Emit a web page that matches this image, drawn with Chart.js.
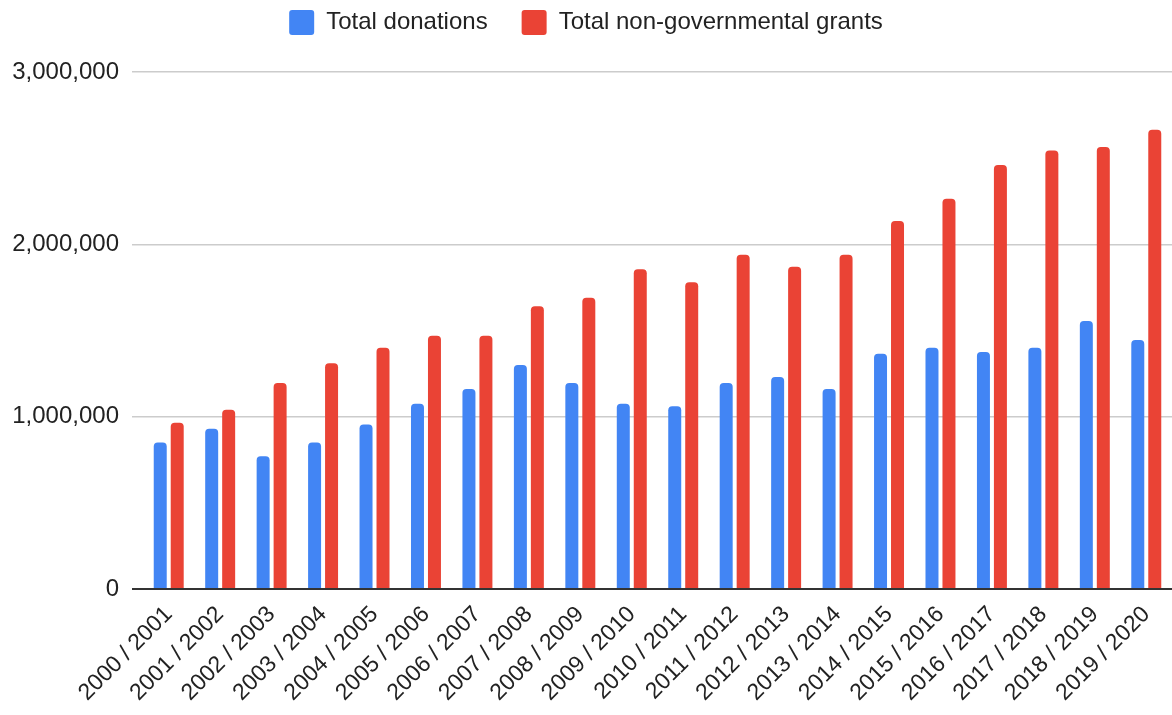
<!DOCTYPE html>
<html>
<head>
<meta charset="utf-8">
<script src="https://cdn.jsdelivr.net/npm/chart.js@4/dist/chart.umd.min.js"></script>
<style>
  html, body { margin: 0; padding: 0; background: #fff; }
  #wrap { width: 1172px; height: 715px; position: relative; }
</style>
</head>
<body>
<div id="wrap"><canvas id="c" width="1172" height="715"></canvas></div>
<script>
const categories = ["2000 / 2001","2001 / 2002","2002 / 2003","2003 / 2004","2004 / 2005","2005 / 2006","2006 / 2007","2007 / 2008","2008 / 2009","2009 / 2010","2010 / 2011","2011 / 2012","2012 / 2013","2013 / 2014","2014 / 2015","2015 / 2016","2016 / 2017","2017 / 2018","2018 / 2019","2019 / 2020"];
const totalDonations = [850000, 930000, 770000, 850000, 955000, 1075000, 1160000, 1300000, 1195000, 1075000, 1060000, 1195000, 1230000, 1160000, 1365000, 1400000, 1375000, 1400000, 1555000, 1445000];
const totalNonGovGrants = [965000, 1040000, 1195000, 1310000, 1400000, 1470000, 1470000, 1640000, 1690000, 1855000, 1780000, 1940000, 1870000, 1940000, 2135000, 2265000, 2460000, 2545000, 2565000, 2665000];
const yTicks = [0, 1000000, 2000000, 3000000];

const FONT = "'Liberation Sans', Arial, sans-serif";

const legendHeight = {
  id: 'legendHeight',
  beforeLayout(chart) {
    const lg = chart.legend;
    if (lg && !lg._patched) {
      const f = lg.fit.bind(lg);
      lg.fit = function () { f(); this.height = 96; };
      lg._patched = true;
    }
  }
};

new Chart(document.getElementById('c'), {
  type: 'bar',
  data: {
    labels: categories,
    datasets: [
      { label: 'Total donations', data: totalDonations, backgroundColor: '#4285F4',
        borderRadius: 4, categoryPercentage: 0.66, barPercentage: 0.765 },
      { label: 'Total non-governmental grants', data: totalNonGovGrants, backgroundColor: '#EA4335',
        borderRadius: 4, categoryPercentage: 0.66, barPercentage: 0.765 }
    ]
  },
  plugins: [legendHeight],
  options: {
    responsive: false,
    animation: false,
    layout: { padding: { top: -24, right: 0, bottom: 0, left: 0 } },
    plugins: {
      legend: {
        position: 'top',
        labels: {
          font: { family: FONT, size: 24 },
          color: '#222',
          boxWidth: 25, boxHeight: 25,
          useBorderRadius: true, borderRadius: 3,
          padding: 34
        }
      },
      tooltip: { enabled: false }
    },
    scales: {
      x: {
        grid: { display: false },
        border: { display: false },
        ticks: {
          font: { family: FONT, size: 23 },
          color: '#222',
          maxRotation: 45, minRotation: 45,
          autoSkip: false, padding: 4
        },
        afterFit: (s) => { s.height = 126; }
      },
      y: {
        min: 0, max: 3000000,
        afterBuildTicks: (s) => { s.ticks = yTicks.map(v => ({ value: v })); },
        border: { display: false },
        grid: {
          color: (ctx) => ctx.tick && ctx.tick.value === 0 ? '#333' : '#cccccc',
          lineWidth: (ctx) => ctx.tick && ctx.tick.value === 0 ? 2 : 1.5,
          tickLength: 11, drawTicks: true
        },
        ticks: {
          font: { family: FONT, size: 24 },
          color: '#222',
          padding: 13,
          callback: (v) => Number(v).toLocaleString('en-US')
        },
        afterFit: (s) => { s.width = 143; }
      }
    }
  }
});
</script>
</body>
</html>
